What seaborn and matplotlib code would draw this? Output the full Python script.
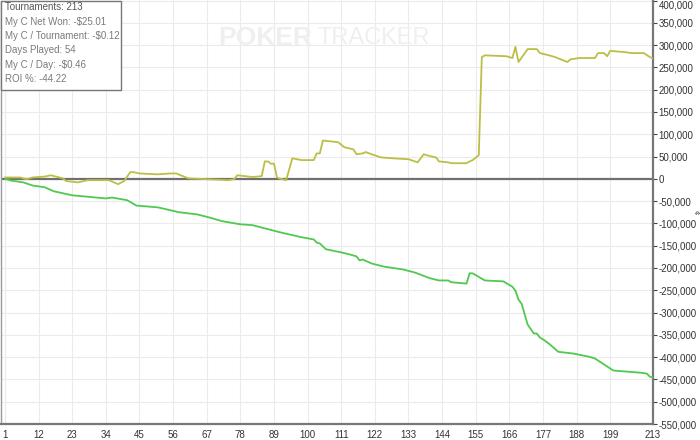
import numpy as np
import pandas as pd
import matplotlib
matplotlib.use("Agg")
import matplotlib.pyplot as plt
from matplotlib.ticker import FuncFormatter
import seaborn as sns

# tournament number / cumulative value (in thousands)
yellow_t = [1, 6, 8, 10, 14, 16, 20, 21, 25, 28, 35, 38, 40, 42, 43, 45, 51, 55, 57, 61,
            74, 76, 77, 82, 85, 86, 87, 88, 89, 90, 91, 93, 95, 98, 102, 103, 104, 105,
            110, 112, 115, 116, 118, 119, 121, 124, 128, 133, 136, 138, 140, 142, 143,
            146, 147, 152, 153, 154, 156, 157, 158, 165, 167, 168, 169, 172, 175, 176,
            179, 181, 185, 186, 189, 194, 195, 197, 198, 199, 204, 206, 210, 212, 213]
yellow_k = [3, 3, -1, 3, 5, 8, 1, -5, -8, -3, -3, -12, -5, 15, 15, 12, 10, 12, 12, 1,
            -3, -1, 8, 4, 6, 39, 39, 34, 34, 3, 0, -3, 46, 42, 42, 57, 57, 86,
            82, 71, 66, 55, 57, 60, 55, 48, 46, 44, 37, 55, 51, 48, 39,
            37, 35, 35, 39, 42, 53, 273, 277, 275, 271, 296, 262, 291, 291, 282,
            277, 273, 262, 268, 271, 271, 282, 282, 275, 287, 284, 282, 282, 273, 270]

green_t = [1, 3, 7, 10, 14, 17, 23, 34, 36, 41, 44, 51, 58, 64, 68, 72, 78, 82, 91, 98,
           102, 103, 104, 106, 111, 114, 116, 117, 118, 121, 125, 131, 135, 140, 143,
           146, 147, 152, 153, 154, 158, 164, 167, 168, 169, 170, 172, 174, 175, 176,
           177, 179, 182, 187, 192, 194, 200, 209, 211, 212, 213]
green_k = [0, -4, -8, -15, -19, -28, -37, -44, -42, -48, -60, -64, -75, -80, -87, -95,
           -102, -104, -120, -131, -136, -143, -145, -158, -165, -170, -174, -183, -181,
           -190, -197, -203, -210, -223, -228, -228, -232, -235, -212, -212, -228, -230,
           -242, -251, -271, -280, -327, -347, -347, -356, -360, -370, -388, -392, -399,
           -403, -430, -435, -437, -444, -446]

stats = ["Tournaments: 213", "My C Net Won: -$25.01", "My C / Tournament: -$0.12",
         "Days Played: 54", "My C / Day: -$0.46", "ROI %: -44.22"]

x_ticks = list(range(1, 200, 11)) + [213]
y_ticks = list(range(-550000, 400001, 50000))

df_y = pd.DataFrame({"t": yellow_t, "v": np.array(yellow_k) * 1000})
df_g = pd.DataFrame({"t": green_t, "v": np.array(green_k) * 1000})

sns.set_style("white")
plt.rcParams['font.family'] = ['Liberation Sans', 'DejaVu Sans']

fig = plt.figure(figsize=(7, 4.4), dpi=100)
ax = fig.add_axes([1 / 700, 16 / 440, 652 / 700, 423.5 / 440])

# watermark
fig.text(218 / 700, 1 - 38 / 440, "POKER", fontsize=19, fontweight="bold",
         color="#efefef", va="center", ha="left")
fig.text(318 / 700, 1 - 38 / 440, "TRACKER", fontsize=17, color="#efefef",
         va="center", ha="left")

ax.set_facecolor("none")
ax.set_xticks(x_ticks)
ax.set_yticks(y_ticks)
ax.grid(True, color="#ebebeb", linewidth=0.8)
ax.axhline(0, color="#707070", linewidth=1.6, zorder=2)

sns.lineplot(data=df_y, x="t", y="v", color="#bcbf45", linewidth=1.3, ax=ax, zorder=3)
sns.lineplot(data=df_g, x="t", y="v", color="#4fc94f", linewidth=1.3, ax=ax, zorder=3)

ax.set_xlim(-0.3, 213)
ax.set_ylim(-550000, 400000)
ax.set_xlabel("")
ax.set_ylabel("")
ax.yaxis.tick_right()
ax.yaxis.set_major_formatter(FuncFormatter(lambda v, p: f"{int(v):,}"))
ax.tick_params(axis="both", labelsize=7, colors="#444444", length=3, width=0.8,
               direction="out", pad=1)
ax.tick_params(axis="y", labelcolor="#333333")
ax.tick_params(axis="x", labelcolor="#333333")

# keep the top label inside the picture
fig.canvas.draw()
ax.get_yticklabels()[-1].set_va("top")

ax.spines["top"].set_visible(False)
ax.spines["right"].set_color("#777777")
ax.spines["right"].set_linewidth(1.6)
ax.spines["bottom"].set_color("#777777")
ax.spines["bottom"].set_linewidth(1.6)
ax.spines["left"].set_color("#999999")
ax.spines["left"].set_linewidth(1.0)

# currency label on the right
fig.text(695 / 700, 1 - 212 / 440, "¢", fontsize=6, color="#444444",
         rotation=-90, ha="center", va="center")

# stats box top-left
box = plt.Rectangle((0.5 / 700, 1 - 90 / 440), 120 / 700, 89.5 / 440,
                    transform=fig.transFigure, facecolor="white",
                    edgecolor="#777777", linewidth=1.0, zorder=5)
fig.patches.append(box)
for i, s in enumerate(stats):
    fig.text(5 / 700, 1 - (7.5 + i * 14.3) / 440, s, fontsize=7,
             color="#555555" if i == 0 else "#7a7a7a", va="center", ha="left",
             zorder=6)

fig.savefig("out.png", dpi=100)
